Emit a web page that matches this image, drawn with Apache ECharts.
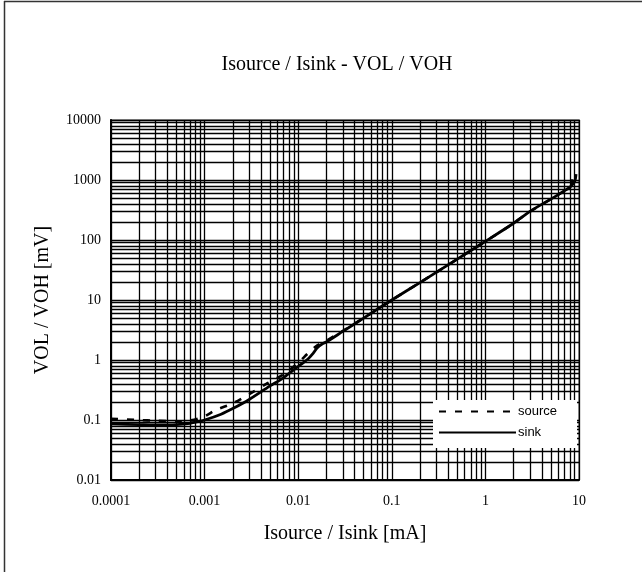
<!DOCTYPE html>
<html>
<head>
<meta charset="utf-8">
<script src="https://cdn.jsdelivr.net/npm/echarts@6/dist/echarts.min.js"></script>
<style>html,body{margin:0;padding:0;background:#fff}#c{width:642px;height:572px}</style>
</head>
<body>
<div id="c"></div>
<script>
// Current (mA) and voltage (mV)
var sinkX = [0.0001,0.0002,0.0003,0.0005,0.0007,0.0008,0.001,0.0015,0.002,0.003,0.005,0.0065,0.008,0.01,0.0128,0.0145,0.016,0.018,0.02,0.03,0.05,0.1,0.2,0.5,1,2,3,5,7,8,8.7,9.1,9.3];
var sinkY = [0.086,0.084,0.083,0.084,0.088,0.092,0.1,0.125,0.155,0.22,0.37,0.47,0.6,0.78,1.05,1.3,1.6,1.85,2.0,3.0,5.0,10,19.5,48,95,190,300,480,660,760,880,1000,1250];
var sourceX = [0.0001,0.0002,0.0003,0.0005,0.0007,0.001,0.0013,0.002,0.003,0.0047,0.007,0.01,0.0128,0.016,0.02,0.03,0.05,0.1,0.2,0.5,1,2,3,5,7,8,8.3,8.5,8.9];
var sourceY = [0.105,0.1,0.097,0.095,0.098,0.115,0.145,0.19,0.27,0.41,0.58,0.9,1.3,1.75,2.1,3.05,5.0,10,19.5,48,95,190,300,480,660,760,820,1250,1400];
var xTicks = [0.0001,0.001,0.01,0.1,1,10];
var xTickLabels = ['0.0001','0.001','0.01','0.1','1','10'];
var yTicks = [0.01,0.1,1,10,100,1000,10000];
var yTickLabels = ['0.01','0.1','1','10','100','1000','10000'];
var titleText = 'Isource / Isink - VOL / VOH';
var xName = 'Isource / Isink [mA]';
var yName = 'VOL / VOH [mV]';

function pairs(xs, ys){ return xs.map(function(x,i){return [x, ys[i]];}); }
function gridValues(ticks){
  var out = [];
  for (var i=0;i<ticks.length-1;i++){
    for (var m=2;m<10;m++) out.push(+(ticks[i]*m).toPrecision(6));
  }
  return out;
}
function labelFor(ticks, labels){
  return function(v){
    for (var i=0;i<ticks.length;i++){ if (Math.abs(Math.log10(v)-Math.log10(ticks[i]))<1e-6) return labels[i]; }
    return '';
  };
}
var xGrid = gridValues(xTicks);
var yGrid = gridValues(yTicks);
var serif = '"Liberation Serif", "DejaVu Serif", serif';
var chart = echarts.init(document.getElementById('c'), null, {renderer:'canvas'});
chart.setOption({
  animation: false,
  backgroundColor: '#fff',
  title: {
    text: titleText, left: 332, top: 50, textAlign: 'center',
    textStyle: {fontFamily: serif, fontSize: 20, fontWeight: 'normal', color: '#000'}
  },
  grid: {left: 111, right: 63, top: 120, bottom: 92, show: true, borderColor: '#999', borderWidth: 2, backgroundColor: '#fff'},
  legend: {
    orient: 'vertical', left: 433, top: 400, backgroundColor: '#fff', z: 20,
    padding: [5, 20, 9, 5], itemGap: 8, itemWidth: 77, itemHeight: 14,
    itemStyle: {color: 'rgba(0,0,0,0)', borderWidth: 0, opacity: 0},
    textStyle: {fontFamily: '"Liberation Sans", Arial, sans-serif', fontSize: 13, color: '#000', padding: [0,0,0,-3]},
    data: ['source', 'sink']
  },
  xAxis: {
    type: 'log', logBase: 10, min: 0.0001, max: 10, splitNumber: 5,
    name: xName, nameLocation: 'middle', nameGap: 44,
    nameTextStyle: {fontFamily: serif, fontSize: 20, color: '#000'},
    axisLine: {show: true, lineStyle: {color: '#000', width: 2}},
    axisTick: {show: false},
    splitLine: {show: true, lineStyle: {color: '#000', width: 1.3}},
    axisLabel: {margin: 14, fontFamily: serif, fontSize: 14, color: '#000', formatter: labelFor(xTicks, xTickLabels)}
  },
  yAxis: {
    type: 'log', logBase: 10, min: 0.01, max: 10000, splitNumber: 6,
    name: yName, nameLocation: 'middle', nameGap: 58, nameRotate: 90,
    nameTextStyle: {fontFamily: serif, fontSize: 20, color: '#000'},
    axisLine: {show: true, lineStyle: {color: '#000', width: 2}},
    axisTick: {show: false},
    splitLine: {show: true, lineStyle: {color: '#000', width: 1.3}},
    axisLabel: {margin: 10, fontFamily: serif, fontSize: 14, color: '#000', formatter: labelFor(yTicks, yTickLabels)}
  },
  series: [
    {
      name: 'grid', type: 'line', data: [], silent: true, z: 1,
      markLine: {
        silent: true, symbol: 'none', animation: false, precision: 10,
        label: {show: false},
        lineStyle: {color: '#000', width: 1.3, type: 'solid'},
        data: xGrid.map(function(v){return {xAxis: v};}).concat(yGrid.map(function(v){return {yAxis: v};}))
      }
    },
    {
      name: 'source', type: 'line', data: pairs(sourceX, sourceY), symbol: 'none', smooth: 0.3, z: 5,
      lineStyle: {color: '#000', width: 2.6, type: [7, 9]}, itemStyle: {color: '#000'}
    },
    {
      name: 'sink', type: 'line', data: pairs(sinkX, sinkY), symbol: 'none', smooth: 0.3, z: 6,
      lineStyle: {color: '#000', width: 2.8, type: 'solid'}, itemStyle: {color: '#000'}
    }
  ],
  graphic: [
    {type: 'line', shape: {x1: 4, y1: 1.5, x2: 642, y2: 1.5}, style: {stroke: '#333', lineWidth: 1.5}, z: 100},
    {type: 'line', shape: {x1: 4.5, y1: 1, x2: 4.5, y2: 572}, style: {stroke: '#333', lineWidth: 1.5}, z: 100}
  ]
});
</script>
</body>
</html>
